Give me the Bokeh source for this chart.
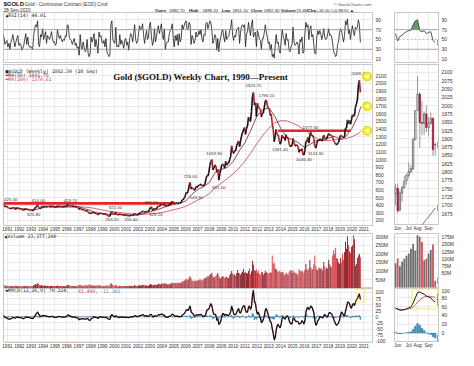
import numpy as np
import pandas as pd
from bokeh.plotting import figure
from bokeh.layouts import column, row
from bokeh.models import Range1d, FixedTicker, Label, BoxAnnotation, Span, Grid
from bokeh.core.properties import value
from bokeh.embed import file_html
from bokeh.resources import INLINE

# ---------------------------------------------------------------- data
FIRST_MONTH = "1990-08-01"   # monthly readings of the weekly chart, Aug 1990 .. Sep 2020

price_close = [
    415, 400, 380, 384, 386,
    368, 362, 356, 357, 360, 368, 362, 348, 354, 358, 366, 353,
    354, 353, 341, 337, 337, 343, 357, 340, 349, 339, 334, 333,
    330, 327, 337, 354, 376, 378, 405, 372, 355, 369, 371, 391,
    378, 381, 390, 376, 387, 386, 384, 386, 394, 389, 383, 383,
    375, 376, 392, 389, 385, 387, 384, 382, 383, 383, 387, 387,
    405, 410, 396, 392, 390, 385, 385, 386, 379, 379, 371, 369,
    345, 364, 349, 340, 345, 335, 326, 325, 332, 311, 296, 290,
    303, 297, 301, 310, 293, 296, 288, 273, 294, 292, 294, 288,
    286, 287, 279, 286, 268, 261, 255, 254, 299, 315, 292, 290,
    287, 310, 277, 275, 272, 288, 276, 277, 272, 264, 269, 273,
    265, 267, 257, 263, 268, 270, 266, 273, 293, 279, 275, 277,
    282, 297, 302, 308, 326, 318, 305, 312, 323, 316, 318, 347,
    367, 380, 334, 339, 361, 346, 354, 375, 388, 384, 398, 416,
    403, 397, 423, 388, 393, 395, 391, 407, 415, 429, 453, 438,
    422, 435, 427, 435, 417, 435, 429, 433, 473, 470, 495, 513,
    568, 556, 582, 654, 700, 613, 632, 623, 599, 604, 646, 632,
    650, 665, 663, 679, 659, 650, 665, 673, 743, 789, 783, 834,
    923, 972, 1000, 865, 886, 929, 918, 833, 870, 730, 813, 869,
    928, 942, 916, 891, 978, 927, 954, 955, 1000, 1040, 1180, 1096,
    1081, 1118, 1113, 1180, 1213, 1244, 1169, 1246, 1307, 1357, 1386, 1420,
    1332, 1410, 1439, 1556, 1536, 1500, 1628, 1825, 1880, 1715, 1746, 1566,
    1738, 1697, 1668, 1664, 1560, 1604, 1614, 1687, 1772, 1780, 1713, 1675,
    1664, 1580, 1595, 1472, 1393, 1234, 1312, 1396, 1326, 1323, 1250, 1202,
    1240, 1322, 1284, 1296, 1250, 1327, 1282, 1287, 1210, 1171, 1175, 1184,
    1279, 1213, 1183, 1183, 1190, 1172, 1095, 1132, 1115, 1142, 1065, 1060,
    1118, 1238, 1235, 1291, 1215, 1320, 1357, 1309, 1316, 1272, 1173, 1151,
    1210, 1254, 1249, 1268, 1268, 1242, 1269, 1321, 1280, 1271, 1275, 1309,
    1343, 1318, 1325, 1315, 1299, 1250, 1223, 1201, 1191, 1214, 1222, 1282,
    1320, 1313, 1298, 1283, 1305, 1413, 1413, 1520, 1472, 1513, 1464, 1520,
    1589, 1566, 1577, 1686, 1730, 1781, 1975, 2040, 1882,
]

rsi_values = [
    62, 55, 40, 45, 48,
    35, 42, 30, 45, 50, 60, 48, 35, 44, 52, 58, 38,
    42, 40, 28, 32, 38, 50, 62, 40, 55, 38, 34, 36,
    32, 30, 58, 72, 80, 76, 88, 40, 35, 60, 55, 72,
    50, 56, 66, 42, 58, 55, 50, 56, 66, 52, 44, 45,
    38, 42, 70, 60, 52, 58, 50, 45, 50, 48, 58, 56,
    80, 78, 55, 50, 48, 40, 46, 52, 38, 42, 32, 35,
    18, 60, 35, 30, 45, 35, 25, 28, 50, 22, 15, 20,
    55, 45, 52, 62, 35, 50, 38, 22, 65, 55, 58, 45,
    42, 48, 35, 52, 25, 20, 15, 18, 80, 88, 50, 45,
    42, 75, 35, 38, 35, 60, 40, 48, 42, 32, 48, 52,
    38, 45, 28, 52, 62, 58, 45, 62, 80, 50, 42, 48,
    62, 78, 70, 72, 82, 60, 42, 55, 68, 50, 55, 80,
    85, 55, 38, 45, 72, 45, 55, 70, 78, 62, 72, 82,
    58, 50, 72, 30, 42, 45, 45, 62, 68, 72, 82, 52,
    35, 58, 48, 60, 38, 62, 45, 52, 80, 70, 78, 85,
    88, 70, 72, 85, 80, 40, 58, 52, 42, 48, 65, 55,
    58, 68, 60, 70, 52, 45, 60, 58, 82, 85, 72, 80,
    88, 85, 68, 42, 48, 60, 55, 28, 52, 25, 45, 55,
    65, 70, 55, 45, 68, 50, 55, 56, 68, 75, 90, 58,
    48, 58, 55, 70, 72, 75, 42, 65, 78, 80, 75, 80,
    35, 62, 65, 85, 70, 58, 80, 90, 55, 62, 65, 35,
    68, 62, 50, 48, 30, 52, 52, 65, 80, 65, 55, 42,
    45, 28, 40, 15, 20, 12, 38, 60, 42, 45, 28, 22,
    45, 70, 58, 50, 38, 62, 48, 50, 28, 25, 35, 40,
    75, 45, 38, 40, 45, 40, 20, 50, 45, 55, 22, 25,
    62, 85, 75, 80, 50, 72, 78, 55, 60, 40, 22, 20,
    55, 68, 60, 68, 62, 50, 58, 72, 55, 50, 52, 62,
    72, 58, 60, 55, 42, 25, 22, 15, 18, 40, 45, 65,
    72, 68, 55, 45, 58, 88, 80, 92, 62, 70, 50, 68,
    78, 65, 58, 75, 72, 74, 90, 80, 44,
]

volume_m = [
    20, 18, 15, 14, 12,
    15, 12, 14, 12, 11, 12, 13, 14, 12, 13, 12, 11,
    12, 11, 13, 12, 11, 12, 14, 13, 12, 11, 12, 10,
    12, 13, 18, 20, 24, 22, 28, 25, 18, 17, 16, 15,
    16, 14, 15, 13, 14, 13, 12, 13, 14, 13, 12, 11,
    12, 13, 16, 14, 13, 12, 12, 11, 12, 11, 12, 11,
    18, 20, 15, 14, 13, 12, 12, 11, 12, 13, 14, 15,
    20, 18, 16, 15, 14, 15, 18, 16, 15, 20, 22, 18,
    17, 16, 15, 16, 14, 15, 14, 16, 18, 15, 14, 13,
    13, 12, 14, 13, 15, 17, 16, 15, 28, 25, 18, 14,
    13, 20, 15, 13, 12, 14, 12, 11, 12, 13, 12, 13,
    12, 13, 14, 12, 14, 13, 12, 13, 18, 15, 13, 12,
    15, 17, 16, 15, 20, 18, 17, 15, 16, 15, 14, 20,
    24, 22, 20, 17, 21, 18, 19, 22, 25, 24, 22, 26,
    28, 25, 27, 30, 24, 22, 21, 23, 25, 28, 32, 30,
    28, 30, 29, 31, 28, 33, 30, 32, 40, 38, 42, 48,
    55, 50, 48, 60, 70, 58, 45, 40, 45, 42, 44, 40,
    45, 48, 55, 46, 44, 50, 52, 60, 58, 65, 72, 68,
    78, 82, 90, 70, 65, 62, 72, 80, 88, 75, 60, 55,
    65, 70, 68, 58, 65, 68, 60, 58, 75, 85, 100, 85,
    80, 78, 72, 88, 105, 90, 85, 78, 88, 95, 112, 90,
    95, 88, 85, 100, 115, 82, 98, 160, 138, 105, 100, 110,
    90, 100, 82, 78, 95, 92, 78, 88, 102, 92, 90, 84,
    88, 92, 90, 190, 140, 148, 115, 110, 100, 92, 102, 96,
    90, 96, 92, 80, 75, 90, 84, 78, 96, 100, 105, 88,
    102, 92, 90, 88, 80, 78, 110, 100, 92, 102, 96, 84,
    105, 140, 112, 102, 115, 165, 120, 102, 112, 140, 190, 128,
    108, 102, 120, 115, 112, 118, 102, 152, 128, 108, 120, 115,
    165, 140, 128, 120, 190, 220, 200, 235, 175, 170, 150, 140,
    175, 150, 200, 165, 210, 270, 230, 300, 250, 215, 205, 240,
    250, 310, 285, 130, 140, 175, 190, 200, 180,
]

macd_line = [
    5, 3, -2, -4, -5,
    -8, -9, -10, -8, -6, -3, -3, -5, -4, -2, 0, -3,
    -3, -3, -5, -7, -7, -5, 0, -2, -1, -2, -4, -5,
    -6, -7, -4, 2, 10, 14, 20, 12, 4, 3, 2, 6,
    5, 4, 5, 2, 2, 1, 0, 1, 2, 2, 0, -1,
    -3, -3, 1, 2, 1, 1, 0, -1, -1, -1, 0, 1,
    6, 8, 5, 3, 1, -1, -1, 0, -2, -3, -5, -7,
    -12, -8, -8, -9, -7, -8, -10, -9, -6, -9, -14, -15,
    -8, -6, -3, 1, -2, -2, -3, -7, -2, 0, 0, -1,
    -2, -2, -3, -1, -5, -8, -10, -11, 3, 10, 6, 2,
    -1, 5, 2, -2, -4, 0, -1, 0, -1, -3, -2, -1,
    -2, -2, -4, -2, 0, 1, 0, 1, 5, 4, 2, 1,
    2, 5, 6, 6, 9, 8, 4, 3, 5, 3, 2, 6,
    11, 8, 2, 0, 5, 3, 3, 6, 9, 8, 9, 12,
    10, 6, 7, 0, -2, -1, -1, 2, 4, 7, 11, 9,
    4, 3, 3, 3, 1, 2, 1, 1, 7, 10, 13, 18,
    28, 30, 25, 35, 45, 20, 15, 12, 5, 2, 8, 8,
    6, 10, 8, 10, 6, 2, 3, 2, 15, 28, 30, 32,
    45, 55, 45, 22, 10, 10, 8, -15, -8, -32, -28, -15,
    0, 15, 12, 5, 10, 8, 6, 6, 12, 22, 45, 30,
    12, 8, 10, 18, 28, 35, 18, 15, 28, 40, 45, 45,
    25, 18, 20, 40, 45, 30, 40, 90, 110, 60, 55, 25,
    10, 20, 5, -5, -25, -20, -10, 5, 30, 35, 20, 5,
    -5, -20, -25, -50, -70, -95, -85, -50, -35, -30, -40, -45,
    -30, -5, 0, -5, -10, 0, 5, 0, -15, -25, -30, -28,
    -5, -5, -15, -20, -18, -20, -30, -28, -25, -15, -20, -30,
    -15, 20, 35, 40, 30, 35, 45, 40, 30, 15, -15, -35,
    -30, -15, -10, 0, 0, -3, -5, 5, 10, 5, 0, 0,
    15, 18, 15, 10, 3, -10, -20, -30, -35, -30, -25, -10,
    10, 20, 15, 5, 5, 25, 40, 60, 60, 55, 40, 35,
    50, 55, 45, 60, 70, 75, 85, 95, 70.224,
]

macd_signal = [
    4, 4, 1, -2, -4,
    -6, -8, -9, -9, -7, -5, -3, -4, -4, -3, -1, -2,
    -3, -3, -4, -6, -7, -6, -2, -2, -1, -2, -3, -4,
    -5, -6, -5, -1, 6, 11, 17, 14, 7, 4, 3, 5,
    5, 4, 5, 3, 2, 1, 1, 1, 2, 2, 1, 0,
    -2, -3, 0, 1, 1, 1, 0, 0, -1, -1, 0, 0,
    4, 7, 6, 4, 2, 0, -1, 0, -1, -2, -4, -6,
    -10, -9, -8, -9, -8, -8, -9, -9, -7, -8, -12, -14,
    -10, -7, -4, -1, -2, -2, -3, -5, -3, -1, 0, -1,
    -2, -2, -3, -2, -4, -7, -9, -10, -2, 6, 6, 3,
    1, 3, 2, 0, -3, -1, -1, 0, -1, -2, -2, -1,
    -2, -2, -3, -2, -1, 0, 0, 1, 3, 4, 3, 2,
    2, 4, 5, 6, 8, 8, 5, 4, 4, 3, 3, 5,
    9, 8, 4, 1, 3, 3, 3, 5, 8, 8, 9, 11,
    10, 7, 7, 2, 0, -1, -1, 1, 3, 6, 9, 9,
    6, 4, 3, 3, 2, 2, 1, 1, 5, 9, 12, 16,
    24, 28, 26, 32, 40, 28, 18, 14, 8, 4, 6, 8,
    7, 8, 8, 9, 7, 4, 3, 2, 10, 22, 28, 31,
    40, 50, 47, 30, 15, 11, 9, -8, -8, -25, -27, -19,
    -5, 9, 11, 7, 9, 8, 7, 6, 10, 18, 38, 33,
    18, 11, 10, 15, 24, 32, 22, 17, 25, 36, 43, 45,
    30, 21, 20, 34, 42, 34, 38, 75, 100, 72, 60, 35,
    15, 17, 9, -2, -18, -20, -13, 0, 22, 32, 24, 10,
    -1, -14, -22, -42, -62, -85, -86, -60, -42, -33, -38, -43,
    -34, -12, -3, -4, -8, -2, 3, 1, -10, -21, -28, -28,
    -10, -6, -12, -18, -18, -19, -27, -28, -26, -18, -19, -27,
    -19, 10, 28, 37, 32, 34, 42, 41, 33, 20, -6, -28,
    -29, -19, -12, -3, -1, -2, -4, 2, 8, 6, 1, 0,
    11, 16, 15, 11, 5, -6, -16, -26, -33, -31, -26, -14,
    4, 16, 15, 8, 6, 20, 35, 53, 59, 56, 44, 37,
    46, 53, 47, 56, 66, 73, 81, 90, 81.49,
]

ma50_points = [
    (1991.5, 372), (1992.0, 362), (1992.5, 350), (1993.0, 342), (1993.5, 347), (1994.0, 368),
    (1994.5, 382), (1995.0, 384), (1995.5, 384), (1996.0, 386), (1996.5, 392), (1997.0, 382),
    (1997.5, 355), (1998.0, 330), (1998.5, 300), (1999.0, 292), (1999.5, 280), (2000.0, 280),
    (2000.5, 282), (2001.0, 274), (2001.5, 267), (2002.0, 272), (2002.5, 292), (2003.0, 315),
    (2003.5, 336), (2004.0, 362), (2004.5, 393), (2005.0, 410), (2005.5, 425), (2006.0, 455),
    (2006.5, 540), (2007.0, 605), (2007.5, 642), (2008.0, 700), (2008.5, 835), (2009.0, 870),
    (2009.5, 895), (2010.0, 975), (2010.5, 1110), (2011.0, 1225), (2011.5, 1390), (2012.0, 1570),
    (2012.5, 1655), (2013.0, 1680), (2013.5, 1570), (2014.0, 1410), (2014.5, 1290), (2015.0, 1262),
    (2015.5, 1218), (2016.0, 1160), (2016.5, 1200), (2017.0, 1252), (2017.5, 1250), (2018.0, 1280),
    (2018.5, 1305), (2019.0, 1270), (2019.5, 1305), (2020.0, 1410), (2020.5, 1570), (2020.74, 1691.75),
]
ma200_points = [
    (1994.5, 372), (1995.0, 370), (1995.5, 371), (1996.0, 373), (1996.5, 376), (1997.0, 378),
    (1997.5, 376), (1998.0, 367), (1998.5, 354), (1999.0, 338), (1999.5, 323), (2000.0, 313),
    (2000.5, 304), (2001.0, 293), (2001.5, 285), (2002.0, 281), (2002.5, 281), (2003.0, 286),
    (2003.5, 293), (2004.0, 304), (2004.5, 322), (2005.0, 340), (2005.5, 360), (2006.0, 384),
    (2006.5, 425), (2007.0, 465), (2007.5, 503), (2008.0, 554), (2008.5, 630), (2009.0, 690),
    (2009.5, 750), (2010.0, 812), (2010.5, 890), (2011.0, 980), (2011.5, 1090), (2012.0, 1210),
    (2012.5, 1320), (2013.0, 1410), (2013.5, 1480), (2014.0, 1510), (2014.5, 1508), (2015.0, 1480),
    (2015.5, 1440), (2016.0, 1390), (2016.5, 1330), (2017.0, 1280), (2017.5, 1250), (2018.0, 1250),
    (2018.5, 1260), (2019.0, 1262), (2019.5, 1275), (2020.0, 1300), (2020.5, 1338), (2020.74, 1370.61),
]

# labelled turning points (date as decimal year, value, side)
ann_dates = [1990.72, 1993.6, 1993.2, 1996.3, 2000.1, 1999.8, 2001.4, 2003.5, 2003.1, 2006.4, 2006.9,
             2008.4, 2008.8, 2011.7, 2012.8, 2013.95, 2015.95, 2016.5, 2016.95, 2020.6]
ann_values = [425.00, 414.00, 325.80, 419.70, 321.00, 253.20, 255.40, 329.20, 384.60, 728.00, 543.50,
              1033.90, 681.00, 1923.70, 1796.10, 1181.40, 1046.40, 1377.50, 1124.30, 2089.20]
ann_above = [True, True, False, True, True, False, False, False, True, True, False,
             True, False, True, True, False, False, True, False, True]

# support / resistance lines and yellow markers
level_start = [1990.67, 2013.8]
level_end = [2005.07, 2019.9]
level_value = [425.0, 1377.5]
marker_values = [2089.2, 1700.0, 1377.5]

year_ticks = list(range(1991, 2022))
price_ticks = list(range(200, 2101, 100))
rsi_ticks = [10, 30, 50, 70, 90]
vol_ticks = [50, 100, 150, 200, 250, 300]
macd_ticks = [-100, -75, -50, -25, 0, 25, 50, 75, 100]

# ---- zoom panel: last weeks, 25 May .. 28 Sep 2020
mini_first_week = "2020-05-25"
mini_open = [1734, 1751, 1686, 1737, 1753, 1774, 1790, 1800, 1809, 1897, 1986, 2035, 1949, 1947, 1975, 1934, 1947, 1962, 1882.7]
mini_high = [1765, 1765, 1747, 1760, 1789, 1795, 1829, 1821, 1904, 1985, 2089.2, 2040, 2015, 1983, 2000, 1966, 1980, 1965, 1888.2]
mini_low = [1699, 1677, 1681, 1711, 1750, 1762, 1781, 1799, 1807, 1897, 1985, 1874, 1911, 1911, 1920, 1907, 1943, 1848, 1851.1]
mini_close = [1751, 1683, 1737, 1753, 1771, 1790, 1801, 1810, 1897, 1985, 2035, 1949, 1947, 1975, 1934, 1947, 1962, 1867, 1882.3]
mini_ma50 = [1560, 1567, 1574, 1581, 1588, 1595, 1602, 1609, 1615, 1621, 1627, 1634, 1641, 1649, 1657, 1665, 1673, 1682, 1691.75]
mini_rsi = [62, 47, 56, 59, 63, 66, 68, 69, 80, 88, 90, 68, 66, 68, 62, 64, 66, 48, 44.01]
mini_volume_m = [84, 100, 74, 90, 100, 110, 118, 135, 151, 129, 182, 177, 158, 95, 100, 118, 130, 150, 23.3772]
mini_macd = [57, 54, 52, 52, 53, 55, 57, 59, 68, 80, 92, 93, 90, 88, 84, 82, 80, 74, 70.224]
mini_signal = [55, 55, 54, 53, 53, 54, 55, 56, 59, 64, 70, 75, 79, 82, 83, 83.5, 83, 82, 81.49]
mini_price_ticks = list(range(1675, 2101, 25))
mini_vol_ticks = [50, 75, 100, 125, 150, 175]
mini_macd_ticks = [0, 20, 40, 60, 80, 100]

# ---------------------------------------------------------------- style
FONT = "Liberation Sans"
MONO = "DejaVu Sans Mono"
TFS = "5px"
XFS = "4.6px"
GRID_C = "#e2e2e2"
OUT_C = "#b9b9b9"
MA50_C = "#6a1f35"
MA200_C = "#cf3d5c"

L_X = (1990.67, 2021.73)
R_X = (-1.45, 18.5)
L_REFX = (3, 385)
R_REFX = (408, 453)
REF_Y = {"rsi": (13, 66.5), "price": (67, 237), "vol": (244, 301), "macd": (302, 358)}
L_Y = {"rsi": (1, 105), "price": (134, 2248), "vol": (-2, 318), "macd": (-105, 116)}
R_Y = {"rsi": (1, 105), "price": (1642, 2124), "vol": (-4, 188), "macd": (-19, 101)}
HEIGHTS = {"rsi": (51, 0, 0), "price": (170, 1, 7), "vol": (55, 0, 0), "macd": (62, 0, 8)}


def months_axis(n):
    d = pd.date_range(FIRST_MONTH, periods=n, freq="MS")
    return (d.year + (d.month - 0.5) / 12.0).to_numpy()


def ref_pos(side, key, rx, ry):
    xr, refx = (L_X, L_REFX) if side == "L" else (R_X, R_REFX)
    yr = (L_Y if side == "L" else R_Y)[key]
    ref_y = REF_Y[key]
    x = xr[0] + (rx - refx[0]) / (refx[1] - refx[0]) * (xr[1] - xr[0])
    y = yr[1] - (ry - ref_y[0]) / (ref_y[1] - ref_y[0]) * (yr[1] - yr[0])
    return x, y


def panel(side, key, xaxis, yticks, ylabels, xticks, xlabels, ygrid_ticks):
    h, mt, mb = HEIGHTS[key]
    w = 391 if side == "L" else 67
    xr = L_X if side == "L" else R_X
    yr = (L_Y if side == "L" else R_Y)[key]
    p = figure(width=w, height=h, x_range=Range1d(*xr), y_range=Range1d(*yr),
               output_backend="svg", toolbar_location=None,
               y_axis_location="right", x_axis_location=("below" if xaxis else None),
               min_border_left=3, min_border_right=(19 if side == "L" else 20),
               min_border_top=mt, min_border_bottom=mb)
    p.background_fill_color = "white"
    p.border_fill_color = "white"
    p.outline_line_color = OUT_C
    p.outline_line_width = 0.8
    for g in p.grid:
        g.visible = False
    p.add_layout(Grid(dimension=0, ticker=FixedTicker(ticks=xticks),
                      grid_line_color=GRID_C, grid_line_width=0.7))
    p.add_layout(Grid(dimension=1, ticker=FixedTicker(ticks=ygrid_ticks),
                      grid_line_color=GRID_C, grid_line_width=0.7))
    ax = p.yaxis[0]
    ax.ticker = FixedTicker(ticks=yticks)
    ax.major_label_overrides = {t: s for t, s in zip(yticks, ylabels)}
    ax.axis_line_color = None
    ax.major_tick_line_color = None
    ax.minor_tick_line_color = None
    ax.major_tick_out = 0
    ax.major_tick_in = 0
    ax.major_label_standoff = 3
    ax.major_label_text_font = FONT
    ax.major_label_text_font_size = TFS
    ax.major_label_text_color = "#333333"
    if xaxis:
        xa = p.xaxis[0]
        xa.ticker = FixedTicker(ticks=xticks)
        xa.major_label_overrides = {t: s for t, s in zip(xticks, xlabels)}
        xa.axis_line_color = None
        xa.major_tick_line_color = None
        xa.minor_tick_line_color = None
        xa.major_tick_out = 0
        xa.major_tick_in = 0
        xa.major_label_standoff = 1
        xa.major_label_text_font = FONT
        xa.major_label_text_font_size = XFS
        xa.major_label_text_color = "#333333"
    return p


def txt(p, x, y, s, size, color="#222222", font=FONT, bold=False, align="left", baseline="middle"):
    p.text(x=[x], y=[y], text=[s], text_font=value(font), text_font_size=size,
           text_color=color, text_align=align, text_baseline=baseline,
           text_font_style=("bold" if bold else "normal"))


def vbox(p, x, y, s, color="#222222", bold=False):
    p.add_layout(Label(x=x, y=y, text=s, text_font=FONT, text_font_size="4.2px",
                       text_color=color, text_baseline="middle", text_font_style=("bold" if bold else "normal"),
                       background_fill_color="white", border_line_color="#555555",
                       border_line_width=0.6, padding=1, x_offset=-1))


year_labels = [str(y) for y in year_ticks]

# ---------------------------------------------------------------- header
hdr = figure(width=458, height=12, x_range=Range1d(0, 474), y_range=Range1d(13, 0),
             output_backend="svg", toolbar_location=None,
             x_axis_location=None, y_axis_location=None, min_border=0)
hdr.outline_line_color = None
for g in hdr.grid:
    g.visible = False
txt(hdr, 3, 4.3, "$GOLD", "6px", "#111111", bold=True)
txt(hdr, 25, 4.3, "Gold - Continuous Contract (EOD) Cmd", "4.7px", "#333333")
txt(hdr, 3, 10.4, "28-Sep-2020", "4.7px", "#333333")
stats = [("Open", True, 160), ("1882.70", False, 174.5), ("High", True, 195), ("1888.20", False, 209),
         ("Low", True, 229), ("1851.10", False, 240), ("Close", True, 259), ("1882.30", False, 272.5),
         ("Volume", True, 290), ("23.4M", False, 306), ("Chg", True, 318),
         ("+16.00 (+0.86%) \u25b2", False, 327)]
for s, b, x in stats:
    txt(hdr, x, 10.4, s, "4.3px", "#222222", bold=b)
txt(hdr, 384, 3.8, "\u00a9 StockCharts.com", "4.4px", "#555555", align="right")

# ---------------------------------------------------------------- left panels
t_price = months_axis(len(price_close))
t_rsi = months_axis(len(rsi_values))
t_vol = months_axis(len(volume_m))
t_macd = months_axis(len(macd_line))
t_sig = months_axis(len(macd_signal))

# RSI
pL1 = panel("L", "rsi", False, rsi_ticks, [str(v) for v in rsi_ticks], year_ticks, year_labels, rsi_ticks)
for lv in (70, 30):
    pL1.add_layout(Span(location=lv, dimension="width", line_color="#8f8f8f", line_width=0.8))
pL1.line(t_rsi, rsi_values, line_color="#1a1a1a", line_width=0.8)
x, y = ref_pos("L", "rsi", 5, 16.5)
txt(pL1, x, y, "\u25b2RSI(14) 44.01", "4.8px", "#222222", font=MONO)

# Price
pL2 = panel("L", "price", True, price_ticks, [str(v) for v in price_ticks], year_ticks, year_labels, price_ticks)
ma50_t, ma50_v = zip(*ma50_points)
ma200_t, ma200_v = zip(*ma200_points)
pL2.line(list(ma200_t), list(ma200_v), line_color=MA200_C, line_width=0.8)
pL2.line(list(ma50_t), list(ma50_v), line_color=MA50_C, line_width=0.8)
for x0, x1, lv in zip(level_start, level_end, level_value):
    pL2.segment(x0=[x0], y0=[lv], x1=[x1], y1=[lv], line_color="#e0262b", line_width=2.6)
pc = np.array(price_close, dtype=float)
up = pc[1:] >= pc[:-1]
seg_col = np.where(up, "#111111", "#b0202a")
pL2.segment(x0=t_price[:-1], y0=pc[:-1], x1=t_price[1:], y1=pc[1:], line_color=seg_col, line_width=1.6)
for d, v, a in zip(ann_dates, ann_values, ann_above):
    align = "left" if d < L_X[0] + 0.3 else "center"
    pL2.text(x=[d], y=[v], text=["%.2f" % v], text_font=value(FONT), text_font_size="4.4px",
             text_color="#333333", text_align=align,
             text_baseline=("bottom" if a else "top"), y_offset=(-2 if a else 2))
mk_x = [L_X[1] - 0.45] * len(marker_values)
pL2.scatter(mk_x, marker_values, marker="circle", size=9, fill_color="#f4ec1c", line_color="#e6d800")
pL2.scatter(mk_x, marker_values, marker="triangle", size=5, angle=np.pi / 2, fill_color="white", line_color=None)
x, y = ref_pos("L", "price", 207, 80)
txt(pL2, x, y, "Gold ($GOLD) Weekly Chart, 1990\u2014Present", "9px", "#111111",
    font="Liberation Serif", bold=True, align="center")
x, y = ref_pos("L", "price", 5, 74)
txt(pL2, x, y, "\u25a0$GOLD (Weekly) 1882.30 (28 Sep)", "4.8px", "#222222", font=MONO)
x, y = ref_pos("L", "price", 5, 78.6)
txt(pL2, x, y, "\u2550MA(50) 1691.75", "4.8px", MA50_C, font=MONO)
x, y = ref_pos("L", "price", 5, 83.2)
txt(pL2, x, y, "\u2550MA(200) 1370.61", "4.8px", MA200_C, font=MONO)

# Volume
pL3 = panel("L", "vol", False, vol_ticks, ["%dM" % v for v in vol_ticks], year_ticks, year_labels, vol_ticks)
vchg = np.diff(np.array(price_close[:len(volume_m) + 1], dtype=float), prepend=price_close[0])[:len(volume_m)]
vcol = np.where(vchg >= 0, "#8e2a33", "#d9434c")
pL3.vbar(x=t_vol, top=volume_m, width=1 / 12, fill_color=vcol, line_color=None)
x, y = ref_pos("L", "vol", 4, 247)
txt(pL3, x, y, "\u25b2Volume 23,377,200", "4.8px", "#222222", font=MONO)

# MACD
pL4 = panel("L", "macd", True, macd_ticks, [str(v) for v in macd_ticks], year_ticks, year_labels, macd_ticks)
n_h = min(len(macd_line), len(macd_signal))
hist = np.array(macd_line[:n_h], dtype=float) - np.array(macd_signal[:n_h], dtype=float)
pL4.vbar(x=t_macd[:n_h], top=hist, bottom=0, width=1 / 12, fill_color="#3a93c6", line_color="#2a6f99", line_width=0.3)
pL4.line(t_sig, macd_signal, line_color="#d23a3a", line_width=0.8)
pL4.line(t_macd, macd_line, line_color="#111111", line_width=1.2)
pL4.add_layout(BoxAnnotation(left=2020.4, right=2021.05, bottom=59, top=114, fill_alpha=0,
                             line_color="#f2e200", line_width=2.2))
x, y = ref_pos("L", "macd", 5, 304.5)
txt(pL4, x, y, "\u25acMACD(12,26,9) 70.224,", "4.8px", "#222222", font=MONO)
x, y = ref_pos("L", "macd", 80, 304.5)
txt(pL4, x, y, "81.490,", "4.8px", "#d23a3a", font=MONO)
x, y = ref_pos("L", "macd", 103, 304.5)
txt(pL4, x, y, "-11.266", "4.8px", "#3a93c6", font=MONO)

# ---------------------------------------------------------------- right (zoom) panels
wk_dates = pd.date_range(mini_first_week, periods=len(mini_close), freq="7D")
wk = np.arange(len(mini_close)) - 1
month_idx = [i for i in range(1, len(wk_dates)) if wk_dates[i].month != wk_dates[i - 1].month]
m_ticks = [int(wk[i]) for i in month_idx]
m_labels = [wk_dates[i].strftime("%b") for i in month_idx]

pR1 = panel("R", "rsi", False, rsi_ticks, [str(v) for v in rsi_ticks], m_ticks, m_labels, [])
for lv in (70, 30):
    pR1.add_layout(Span(location=lv, dimension="width", line_color="#8f8f8f", line_width=0.8))
pR1.add_layout(Span(location=50, dimension="width", line_color="#8f8f8f", line_width=0.6, line_dash="2 2"))
rs = np.array(mini_rsi, dtype=float)
pR1.varea(x=wk, y1=np.full(len(rs), 70.0), y2=np.maximum(rs, 70.0), fill_color="#5f9a62")
pR1.line(wk, rs, line_color="#444444", line_width=0.9)
vbox(pR1, R_X[1], mini_rsi[-1], "44.01")

pR2 = panel("R", "price", True, mini_price_ticks, [str(v) for v in mini_price_ticks], m_ticks, m_labels, mini_price_ticks)
mo = np.array(mini_open, dtype=float)
mc = np.array(mini_close, dtype=float)
down = mc < mo
pR2.segment(x0=wk, y0=mini_low, x1=wk, y1=mini_high, line_color="#555555", line_width=0.6)
pR2.vbar(x=wk, width=0.62, top=np.maximum(mo, mc), bottom=np.minimum(mo, mc),
         fill_color=np.where(down, "#c8163a", "white"), line_color=np.where(down, "#8a1028", "#333333"),
         line_width=0.6)
pR2.line(wk, mini_ma50, line_color=MA50_C, line_width=0.7)
vbox(pR2, R_X[1], mini_close[-1], "1882.30", "#111111", bold=True)
vbox(pR2, R_X[1], mini_ma50[-1], "1691.75", MA50_C)

pR3 = panel("R", "vol", False, mini_vol_ticks, ["%dM" % v for v in mini_vol_ticks], m_ticks, m_labels, mini_vol_ticks)
pR3.vbar(x=wk, top=mini_volume_m, width=0.82, fill_color=np.where(down, "#c9535a", "#6e6e6e"), line_color=None)
vbox(pR3, R_X[1], mini_volume_m[-1], "23377200")

pR4 = panel("R", "macd", True, mini_macd_ticks, [str(v) for v in mini_macd_ticks], m_ticks, m_labels, mini_macd_ticks)
mh = np.array(mini_macd, dtype=float) - np.array(mini_signal, dtype=float)
pR4.vbar(x=wk, top=mh, bottom=0, width=0.85, fill_color="#3a93c6", line_color="#2a6f99", line_width=0.3)
pR4.line(wk, mini_signal, line_color="#d23a3a", line_width=0.8)
pR4.line(wk, mini_macd, line_color="#111111", line_width=1.0)
pR4.add_layout(BoxAnnotation(left=6.4, right=18.0, bottom=55, top=100, fill_alpha=0,
                             line_color="#f2e200", line_width=2.2))
vbox(pR4, R_X[1], mini_signal[-1], "81.490", "#d23a3a")
vbox(pR4, R_X[1], mini_macd[-1], "70.224", "#111111")
vbox(pR4, R_X[1], mh[-1], "-11.266", "#2a7fb0")

left = column(pL1, pL2, pL3, pL4, spacing=0)
right = column(pR1, pR2, pR3, pR4, spacing=0)
layout = column(hdr, row(left, right, spacing=0), spacing=0)

open("out.html", "w").write(file_html(layout, INLINE))
